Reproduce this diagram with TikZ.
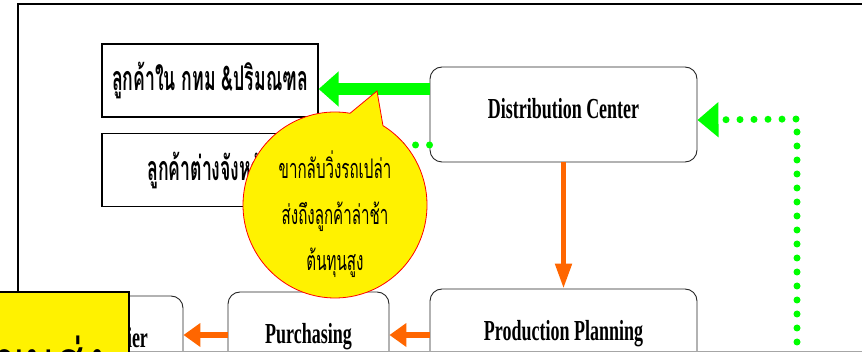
\documentclass[tikz,border=0pt]{standalone}
\usepackage{fontspec}
\setmainfont{Liberation Serif}
\newfontfamily\latcond[FakeStretch=0.62]{Liberation Serif}
\newfontfamily\thaicond[Script=Thai,FakeStretch=0.52]{Loma}
\newfontfamily\thainote[Script=Thai,FakeStretch=0.56]{Loma}
\newfontfamily\thaibig[Script=Thai,FakeStretch=0.7]{Loma}
\usetikzlibrary{arrows.meta,shapes.callouts}

\definecolor{flowor}{HTML}{FF6600}
\definecolor{linkgr}{HTML}{00FF00}

\tikzset{
  unitbox/.style={draw=black!85, line width=0.9pt, rounded corners=12pt, inner sep=0pt,
    minimum height=95pt, font=\latcond\bfseries\fontsize{29}{29}\selectfont,
    text height=22pt, text depth=14pt},
  custbox/.style={draw, line width=1.3pt, inner sep=0pt, minimum width=216pt,
    minimum height=73pt, font=\thaicond\bfseries\fontsize{34}{34}\selectfont},
  orflow/.style={draw=flowor, line width=6pt, -{Triangle[length=17pt,width=23pt]}},
  grflow/.style={draw=linkgr, line width=12pt, -{Triangle[length=20pt,width=34pt]}},
  grdots/.style={draw=linkgr, line width=7pt, line cap=round, dash pattern=on 0pt off 14pt,
    -{Triangle[length=21pt,width=34pt]}}
}

\begin{document}
\begin{tikzpicture}[x=1pt, y=-1pt]
  \useasboundingbox (0,0) rectangle (862,352);
  \clip (0,0) rectangle (862,352);

  % outer frame
  \coordinate (fbl) at (18,330);
  \coordinate (ftr) at (880,4);
  \draw[line width=2.5pt] (fbl) |- (ftr);

  % customers
  \node[custbox] (bkk) at (210,80.5) {ลูกค้าใน กทม \&ปริมณฑล};
  \node[custbox] (upc) at (210,170) {ลูกค้าต่างจังหวัด};

  % chain
  \node[unitbox, minimum width=267pt] (dc) at (563.5,114.5) {Distribution Center};
  \node[unitbox, minimum width=267pt] (pp) at (563.5,336.5) {Production Planning};
  \node[unitbox, minimum width=161pt] (pur) at (308.5,339.5) {Purchasing};
  \node[unitbox, minimum width=136pt] (sup) at (115,343.5) {Supplier};

  \draw[orflow, line width=5pt, -{Triangle[length=25pt,width=16pt]}] (dc) -- (pp);
  \draw[orflow] ([yshift=1.5pt]pp.west) -- ([yshift=4.5pt]pur.east);
  \draw[orflow] ([yshift=4.5pt]pur.west) -- ([yshift=8.5pt]sup.east);

  \draw[grflow] ([yshift=25.5pt]dc.west) -- ([yshift=-8.5pt]bkk.east);
  \draw[grdots] ([yshift=-30.5pt]dc.west) -- ([yshift=25pt]upc.east);

  \coordinate (gbot) at (797,370);
  \coordinate (gtop) at (797,119);
  \draw[grdots] (gbot) -- (gtop) -- ([yshift=-5.5pt]dc.east);

  % callout
  \node[ellipse callout, fill=yellow, draw=red, line width=0.8pt, inner sep=0pt,
        minimum width=184pt, minimum height=186pt, callout pointer arc=22,
        callout absolute pointer={(377,91)}] (note) at (335,205) {};
  \node[align=center, inner sep=0pt, font=\thainote\fontsize{27}{46}\selectfont]
        (notetxt) at (335,214) {ขากลับวิ่งรถเปล่า\\ส่งถึงลูกค้าล่าช้า\\ต้นทุนสูง};

  % bottom edge
  \coordinate (el) at (129,351.5);
  \coordinate (er) at (862,351.5);
  \draw[gray!70, line width=1pt] (el) -- (er);

  % tag
  \node[draw, fill=yellow, line width=1.8pt, minimum width=150pt, minimum height=120pt,
        inner sep=0pt] (tag) at (54,352) {};
  \node[font=\thaibig\fontsize{64}{64}\selectfont, anchor=base, inner sep=0pt] (tagtxt)
        at (50,386) {ขนส่ง};
\end{tikzpicture}
\end{document}
